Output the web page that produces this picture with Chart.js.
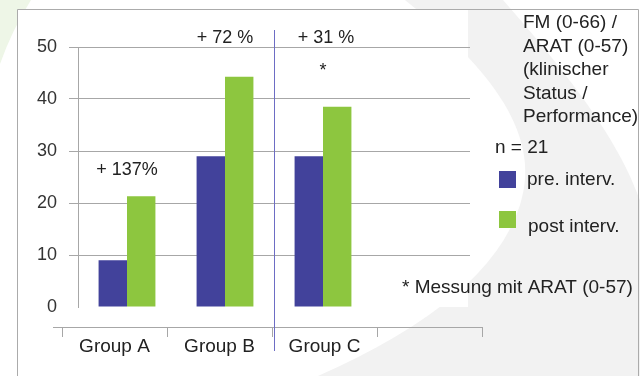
<!DOCTYPE html>
<html>
<head>
<meta charset="utf-8">
<script src="https://cdn.jsdelivr.net/npm/chart.js@4.4.0/dist/chart.umd.min.js"></script>
<style>
html, body { margin: 0; padding: 0; background: #fff; }
</style>
</head>
<body>
<canvas id="graphFM" width="640" height="376"></canvas>
<script>
//Données
var categories = ['Group A', 'Group B', 'Group C', ''];
var preInterv = [9, 29, 29];
var postInterv = [21.3, 44.3, 38.5];
var yTicks = [0, 10, 20, 30, 40, 50];
var gainLabels = ['+ 137%', '+ 72 %', '+ 31 %'];
var gainLevels = [26.4, 51.7, 51.7];
var starGroup = 2;
var starLevel = 45.3;
var legendTitle = ['FM (0-66) /', 'ARAT (0-57)', '(klinischer', 'Status /', 'Performance)'];
var seriesNames = ['pre. interv.', 'post interv.'];
var nText = 'n = 21';
var footNote = '* Messung mit ARAT (0-57)';

var colPre = '#42429b';
var colPost = '#8dc63f';
var gridCol = '#a7a7a7';
var textCol = '#222222';
var fontFam = '"Liberation Sans", Arial, sans-serif';

Chart.defaults.font.family = fontFam;
Chart.defaults.color = textCol;

//Décor : fond, cadre, bande grise, zone blanche
var decorPlugin = {
    id: 'decor',
    afterLayout: function (chart) {
        //axe du bas décalé (comme dans l'original)
        var s = chart.scales.x2;
        s.left = 62; s.right = 482; s.width = 420;
        s.top = 327; s.bottom = 376; s.height = 49;
        s.configure();
    },
    beforeDraw: function (chart) {
        var ctx = chart.ctx;
        ctx.save();
        ctx.fillStyle = '#ffffff';
        ctx.fillRect(0, 0, 640, 376);

        ctx.fillStyle = '#eef6e7';
        ctx.beginPath();
        ctx.moveTo(0, 0);
        ctx.lineTo(31, 0);
        ctx.quadraticCurveTo(12, 30, 0, 64);
        ctx.closePath();
        ctx.fill();

        ctx.fillStyle = '#f2f2f2';
        ctx.beginPath();
        ctx.moveTo(405, 0);
        ctx.bezierCurveTo(480, 60, 545, 130, 520, 205);
        ctx.quadraticCurveTo(490, 300, 318, 376);
        ctx.lineTo(640, 376);
        ctx.lineTo(640, 200);
        ctx.bezierCurveTo(625, 160, 600, 110, 503, 0);
        ctx.closePath();
        ctx.fill();

        ctx.fillStyle = '#ffffff';
        ctx.fillRect(18, 10, 450, 297);

        ctx.strokeStyle = '#ababab';
        ctx.lineWidth = 1;
        ctx.beginPath();
        ctx.moveTo(17.5, 376);
        ctx.lineTo(17.5, 9.5);
        ctx.lineTo(638.5, 9.5);
        ctx.lineTo(638.5, 376);
        ctx.stroke();
        ctx.restore();
    },
    afterDatasetsDraw: function (chart) {
        var ctx = chart.ctx;
        var x = chart.scales.x;
        var y = chart.scales.y;
        ctx.save();

        //ligne verticale bleue entre B et C
        var xs = Math.round((x.getPixelForValue(1) + x.getPixelForValue(2)) / 2) + 0.5;
        ctx.strokeStyle = '#6d6dc4';
        ctx.lineWidth = 1;
        ctx.beginPath();
        ctx.moveTo(xs, 30);
        ctx.lineTo(xs, 351);
        ctx.stroke();

        //prolongement de l'axe du bas
        ctx.strokeStyle = gridCol;
        ctx.beginPath();
        ctx.moveTo(53, 327.5);
        ctx.lineTo(62, 327.5);
        ctx.stroke();

        ctx.fillStyle = textCol;
        ctx.font = '18px ' + fontFam;
        ctx.textAlign = 'center';
        ctx.textBaseline = 'middle';
        for (var i = 0; i < gainLabels.length; i++) {
            ctx.fillText(gainLabels[i], x.getPixelForValue(i) + (i == 2 ? 3 : 0), y.getPixelForValue(gainLevels[i]));
        }
        ctx.fillText('*', x.getPixelForValue(starGroup), y.getPixelForValue(starLevel));

        //légende
        ctx.font = '19px ' + fontFam;
        ctx.textAlign = 'left';
        for (var j = 0; j < legendTitle.length; j++) {
            ctx.fillText(legendTitle[j], 523, 23 + j * 23.5);
        }
        ctx.fillText(nText, 495, 148);
        ctx.fillStyle = colPre;
        ctx.fillRect(499, 171, 17, 17);
        ctx.fillStyle = colPost;
        ctx.fillRect(499, 211, 17, 17);
        ctx.fillStyle = textCol;
        ctx.fillText(seriesNames[0], 527, 180);
        ctx.fillText(seriesNames[1], 528, 227);
        ctx.fillText(footNote, 402, 288);
        ctx.restore();
    }
};

var ctx = document.getElementById('graphFM').getContext('2d');
var chart = new Chart(ctx, {
    type: 'bar',
    data: {
        labels: categories,
        datasets: [{
            label: seriesNames[0],
            data: preInterv,
            backgroundColor: colPre
        }, {
            label: seriesNames[1],
            data: postInterv,
            backgroundColor: colPost
        }]
    },
    options: {
        responsive: false,
        animation: false,
        barPercentage: 1,
        categoryPercentage: 0.58,
        layout: {
            padding: { left: 0, top: 47, right: 170, bottom: 0 }
        },
        plugins: {
            legend: { display: false },
            tooltip: { enabled: false }
        },
        scales: {
            x: {
                display: false
            },
            x2: {
                type: 'category',
                position: 'bottom',
                labels: categories,
                offset: true,
                grid: {
                    offset: true,
                    drawOnChartArea: false,
                    drawTicks: true,
                    tickLength: 10,
                    color: gridCol
                },
                border: { display: true, color: gridCol },
                ticks: {
                    font: { size: 19 },
                    color: textCol,
                    padding: -2,
                    maxRotation: 0
                },
                afterFit: function (scale) { scale.height = 69; }
            },
            y: {
                min: 0,
                max: 50,
                afterBuildTicks: function (scale) {
                    scale.ticks = yTicks.map(function (v) { return { value: v }; });
                },
                grid: {
                    color: function (c) { return c.tick && c.tick.value === 0 ? 'rgba(0,0,0,0)' : gridCol; },
                    tickLength: 9
                },
                border: { display: true, color: gridCol },
                ticks: {
                    font: { size: 18 },
                    color: '#333333',
                    padding: 12
                },
                afterFit: function (scale) { scale.width = 78; }
            }
        }
    },
    plugins: [decorPlugin]
});
</script>
</body>
</html>
